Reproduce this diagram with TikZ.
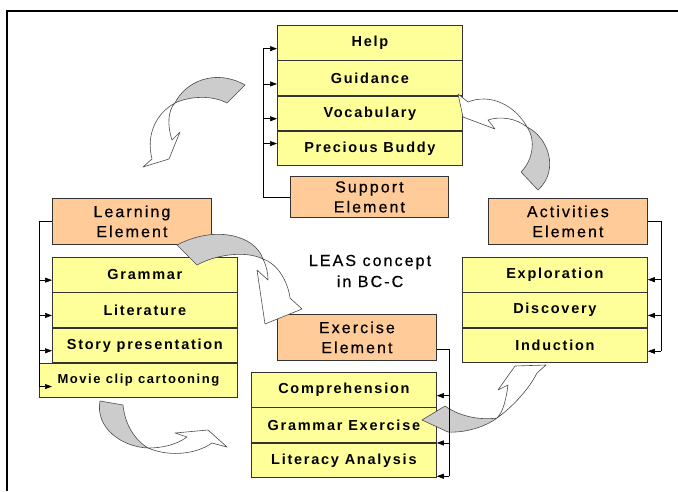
\documentclass[tikz,border=0pt]{standalone}
\usepackage{fontspec}
\setmainfont{Liberation Sans}
\newfontfamily\itemfont{Liberation Sans}[LetterSpace=12]
\newfontfamily\headfont{Liberation Sans}[LetterSpace=13,FakeBold=0.6]
\usetikzlibrary{arrows.meta}
\usetikzlibrary{positioning}
\definecolor{lemon}{HTML}{FFFF99}
\definecolor{peach}{HTML}{FFCC99}
\definecolor{ribbon}{HTML}{CCCCCC}
\tikzset{
  elem/.style={draw=black!80, fill=peach, line width=0.8pt, minimum width=159, minimum height=46,
    inner sep=0pt, align=center, font=\headfont\fontsize{16}{20}\selectfont},
  part/.style={draw=black!80, fill=lemon, line width=0.8pt, minimum width=185, minimum height=34.5,
    inner sep=0pt, font=\itemfont\bfseries\fontsize{14.5}{17}\selectfont},
  link/.style={-{Triangle[length=7pt,width=5pt]}, line width=0.6pt},
  back/.style={draw=black!70, fill=ribbon, line width=0.6pt, line join=round},
  front/.style={draw=black!70, fill=white, line width=0.6pt, line join=round},
}

\begin{document}
\begin{tikzpicture}[x=1pt, y=-1pt]
\useasboundingbox (0,0) rectangle (678,491);
\draw[line width=2pt] (7,491) -- (7,11) -- (678,11);

\node[part, anchor=north west] (help) at (277,25) {Help};
\node[part, below=0pt of help] (guid) {Guidance};
\node[part, below=0pt of guid] (vocab) {Vocabulary};
\node[part, below=0pt of vocab] (buddy) {Precious Buddy};
\node[elem, anchor=north west, minimum width=158, minimum height=41] (supel) at (290,176) {Support\\Element};

\node[elem, anchor=north west] (learnel) at (52,198) {Learning\\Element};
\node[part, anchor=north west] (gram) at (52,257) {Grammar};
\node[part, below=0pt of gram] (lit) {Literature};
\node[part, below=0pt of lit] (story) {Story presentation};
\node[part, anchor=north east, minimum width=198, font=\itemfont\bfseries\fontsize{13}{15}\selectfont]
  (movie) at (story.south east) {Movie clip cartooning};

\node[elem, anchor=north west] (exel) at (277,314) {Exercise\\Element};
\node[part, anchor=north west] (comp) at (251,372) {Comprehension};
\node[part, below=0pt of comp] (gramex) {Grammar Exercise};
\node[part, below=0pt of gramex] (litan) {Literacy Analysis};

\node[elem, anchor=north west] (actel) at (488,198) {Activities\\Element};
\node[part, anchor=north west] (explor) at (462,257) {Exploration};
\node[part, below=0pt of explor] (disc) {Discovery};
\node[part, below=0pt of disc] (induc) {Induction};

\node[align=center, font=\headfont\fontsize{16}{21}\selectfont] (leas) at (370,271) {LEAS concept\\in BC-C};

\draw[back] (175,103) .. controls (185,82) and (215,68) .. (245,85) -- (227,103)
  .. controls (212,95) and (190,96) .. (175,103) -- cycle;
\draw[front] (175,103) .. controls (155,114) and (146,136) .. (152,159) -- (143,167) -- (169,159)
  -- (180,132) -- (172,140) .. controls (167,125) and (168,110) .. (175,103) -- cycle;

\draw[back] (527,127) .. controls (548,137) and (560,170) .. (538,190) -- (521,172)
  .. controls (533,160) and (536,140) .. (527,127) -- cycle;
\draw[front] (527,127) .. controls (515,105) and (490,93) .. (468,102) -- (458,94) -- (463,117)
  -- (495,129) -- (488,120) .. controls (500,116) and (516,118) .. (527,127) -- cycle;

\draw[back] (100,401) -- (123,405) .. controls (125,425) and (135,440) .. (148,448)
  .. controls (122,447) and (95,428) .. (100,401) -- cycle;
\draw[front] (148,448) .. controls (172,458) and (198,453) .. (212,443) -- (227,447) -- (208,430)
  -- (175,433) -- (187,437) .. controls (176,445) and (162,448) .. (148,448) -- cycle;

\draw[back] (177,245) -- (197,265) .. controls (215,255) and (245,250) .. (263,259)
  .. controls (255,235) and (215,225) .. (177,245) -- cycle;
\draw[front] (263,259) .. controls (278,264) and (288,282) .. (290,298) -- (302,309) -- (265,324)
  -- (257,270) -- (268,280) .. controls (268,272) and (266,265) .. (263,259) -- cycle;

\draw[back] (445,406) -- (422,420) -- (448,432) .. controls (465,433) and (485,427) .. (497,418)
  .. controls (483,420) and (462,418) .. (445,406) -- cycle;
\draw[front] (497,418) .. controls (515,405) and (530,387) .. (537,373) -- (546,365) -- (515,366)
  -- (498,390) -- (508,385) .. controls (506,400) and (503,412) .. (497,418) -- cycle;

\draw[line width=0.6pt] (supel.west) -| ([xshift=-14pt,yshift=-6pt]help.west);
\foreach \n/\s in {help/-6, guid/-6, vocab/-5.5, buddy/5}
  \draw[link] ([xshift=-14pt,yshift=\s pt]\n.west) -- ([yshift=\s pt]\n.west);

\draw[line width=0.6pt] (learnel.west) -| ([yshift=-6pt]movie.west);
\foreach \n in {gram, lit, story}
  \draw[link] ([xshift=-13pt,yshift=-5.5pt]\n.west) -- ([yshift=-5.5pt]\n.west);
\draw[link] ([yshift=-6pt]movie.west) -- ([xshift=13pt,yshift=-6pt]movie.west);

\draw[line width=0.6pt] ([yshift=-12pt]exel.east) -| ([xshift=12.5pt,yshift=-16pt]litan.east);
\foreach \n/\s in {comp/-6, gramex/-18, litan/-16}
  \draw[link] ([xshift=12.5pt,yshift=\s pt]\n.east) -- ([yshift=\s pt]\n.east);

\draw[line width=0.6pt] (actel.east) -| ([xshift=13pt,yshift=-6pt]induc.east);
\foreach \n/\s in {explor/-5, disc/-5.5, induc/-6}
  \draw[link] ([xshift=13pt,yshift=\s pt]\n.east) -- ([yshift=\s pt]\n.east);
\end{tikzpicture}
\end{document}
